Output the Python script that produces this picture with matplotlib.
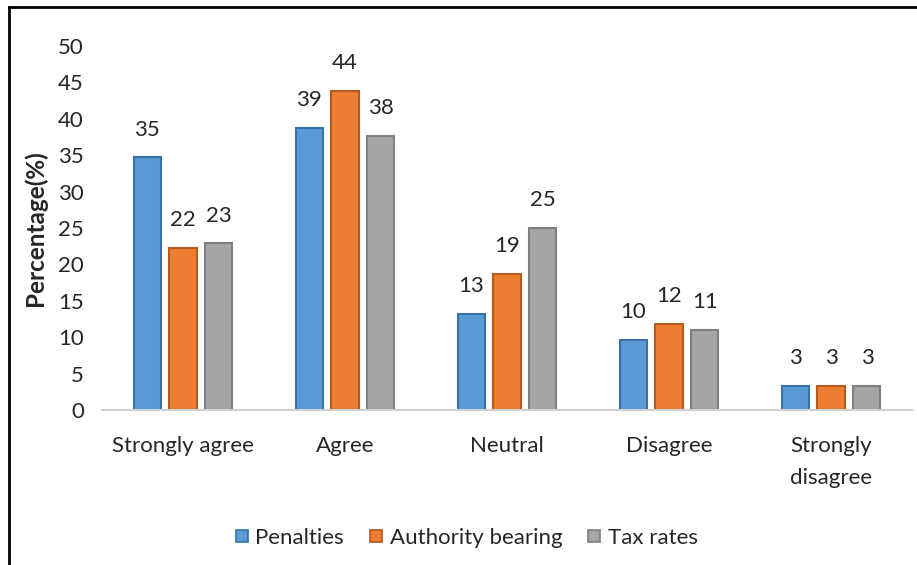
import numpy as np
import matplotlib
matplotlib.use("Agg")
import matplotlib.pyplot as plt
from matplotlib.lines import Line2D

plt.rcParams['font.family'] = ['Lato', 'DejaVu Sans']

categories = ["Strongly agree", "Agree", "Neutral", "Disagree", "Strongly\ndisagree"]
series_names = ["Penalties", "Authority bearing", "Tax rates"]
penalties = [34.7, 38.8, 13.2, 9.6, 3.3]
authority = [22.3, 43.8, 18.7, 11.8, 3.3]
tax_rates = [22.9, 37.6, 25.0, 11.0, 3.3]
labels_pen = ["35", "39", "13", "10", "3"]
labels_auth = ["22", "44", "19", "12", "3"]
labels_tax = ["23", "38", "25", "11", "3"]
yticks = [0, 5, 10, 15, 20, 25, 30, 35, 40, 45, 50]

fills = ["#5B9BD5", "#ED7D31", "#A5A5A5"]
edges = ["#3A6FA8", "#B85A1E", "#7F7F7F"]

fig = plt.figure(figsize=(9.17, 5.65), dpi=100)
ax = fig.add_axes([102/917, 1-410/565, 810/917, 364/565])

x = np.arange(len(categories))
offs = [-0.222, 0, 0.222]
w = 0.167
for vals, labs, off, fc, ec in zip([penalties, authority, tax_rates],
                                   [labels_pen, labels_auth, labels_tax],
                                   offs, fills, edges):
    ax.bar(x + off, vals, width=w, color=fc, edgecolor=ec, linewidth=1.5, zorder=2)
    for xi, v, lab in zip(x + off, vals, labs):
        ax.annotate(lab, (xi, v), xytext=(0, 20), textcoords="offset points",
                    ha="center", va="center", fontsize=16, color="#262626")

ax.set_xlim(-0.5, len(categories) - 0.5)
ax.set_ylim(0, 50)
ax.set_yticks(yticks)
ax.set_xticks(x)
ax.set_xticklabels(categories, fontsize=16, color="#262626", linespacing=1.75)
ax.tick_params(axis="y", length=0, pad=13, labelsize=16, labelcolor="#262626")
ax.tick_params(axis="x", length=0, pad=19)
for s in ["top", "right", "left"]:
    ax.spines[s].set_visible(False)
ax.spines["bottom"].set_color("#D0D0D0")
ax.spines["bottom"].set_linewidth(1.5)
ax.set_ylabel("Percentage(%)", fontsize=17.5, fontweight="bold", color="#262626", labelpad=8)

handles = [Line2D([], [], linestyle="none", marker="s", markersize=9,
                  markerfacecolor=fc, markeredgecolor=ec, markeredgewidth=1.2)
           for fc, ec in zip(fills, edges)]
fig.legend(handles, series_names, loc="center", bbox_to_anchor=(466/917, 1-538/565),
           ncol=3, frameon=False, fontsize=16, handlelength=0.7, handletextpad=0.25,
           columnspacing=1.1, labelcolor="#262626")

# outer chart border (top and left edges visible)
fig.add_artist(Line2D([9/917, 1], [1-7/565, 1-7/565], color="black", linewidth=2,
                      transform=fig.transFigure))
fig.add_artist(Line2D([9/917, 9/917], [0, 1-7/565], color="black", linewidth=2,
                      transform=fig.transFigure))

fig.savefig("out.png", dpi=100)
